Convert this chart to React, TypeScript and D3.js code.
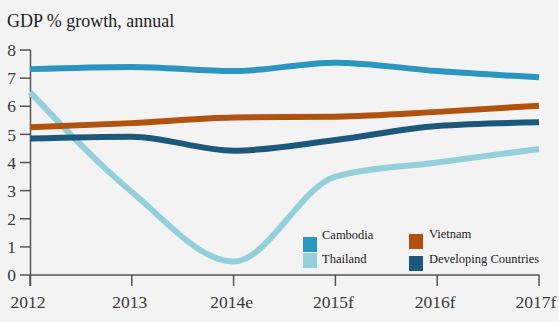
import React from "react";
import * as d3 from "d3";

const years = ["2012", "2013", "2014e", "2015f", "2016f", "2017f"];
const yTicks = [0, 1, 2, 3, 4, 5, 6, 7, 8];
const cambodia = [7.32, 7.4, 7.25, 7.55, 7.25, 7.03];
const vietnam = [5.25, 5.4, 5.6, 5.63, 5.8, 6.02];
const thailand = [6.5, 2.95, 0.48, 3.5, 4.0, 4.48];
const developing = [4.85, 4.92, 4.42, 4.8, 5.3, 5.43];

const seriesNames = ["Cambodia", "Vietnam", "Thailand", "Developing Countries"];
const seriesColors = ["#2b96bf", "#b2520f", "#94d0dc", "#1b5879"];

export default function App() {
  const W = 559, H = 322;
  const x = d3.scalePoint<string>().domain(years).range([30, 539]);
  const y = d3.scaleLinear().domain([0, 8]).range([275, 50]);
  const line = d3
    .line<number>()
    .x((_, i) => x(years[i]) as number)
    .y((d) => y(d))
    .curve(d3.curveMonotoneX);

  const data = [cambodia, vietnam, thailand, developing];
  const drawOrder = [2, 3, 1, 0];
  const font = "'Liberation Serif', 'Times New Roman', serif";
  const axisColor = "#555";

  const legend = [
    { i: 0, x: 303, y: 237, tx: 322, ty: 239 },
    { i: 1, x: 409, y: 234, tx: 429, ty: 238 },
    { i: 2, x: 303, y: 253, tx: 322, ty: 263 },
    { i: 3, x: 409, y: 256, tx: 429, ty: 263 },
  ];

  return (
    <svg
      width={W}
      height={H}
      style={{ position: "absolute", left: 0, top: 0, background: "#f3f3f3" }}
      fontFamily={font}
    >
      <rect x={0} y={0} width={W} height={H} fill="#f3f3f3" />
      <text x={7} y={27} fontSize={18} fill="#222">
        GDP % growth, annual
      </text>

      {/* y axis */}
      <line x1={30.5} x2={30.5} y1={y(8)} y2={286} stroke={axisColor} strokeWidth={1.5} />
      {yTicks.map((t) => (
        <g key={t}>
          <line x1={20} x2={30.5} y1={y(t)} y2={y(t)} stroke={axisColor} strokeWidth={1.5} />
          <text
            x={16}
            y={y(t)}
            dy="0.35em"
            textAnchor="end"
            fontSize={17.5}
            fill="#3a3a3a"
          >
            {t}
          </text>
        </g>
      ))}

      {/* x axis */}
      <line x1={30} x2={539.5} y1={y(0)} y2={y(0)} stroke={axisColor} strokeWidth={1.5} />
      {years.map((yr) => (
        <g key={yr}>
          <line
            x1={x(yr)}
            x2={x(yr)}
            y1={y(0)}
            y2={286}
            stroke={axisColor}
            strokeWidth={1.5}
          />
          <text
            x={(x(yr) as number) - (yr === "2017f" ? 3 : 2)}
            y={308}
            textAnchor="middle"
            fontSize={17.5}
            fill="#3a3a3a"
          >
            {yr}
          </text>
        </g>
      ))}

      {/* lines */}
      {drawOrder.map((i) => (
        <path
          key={i}
          d={line(data[i]) || ""}
          fill="none"
          stroke={seriesColors[i]}
          strokeWidth={6}
          strokeLinecap="butt"
        />
      ))}

      {/* legend */}
      {legend.map((l) => (
        <g key={l.i}>
          <rect x={l.x} y={l.y} width={14} height={15} fill={seriesColors[l.i]} />
          <text x={l.tx} y={l.ty} fontSize={12.5} fill="#222">
            {seriesNames[l.i]}
          </text>
        </g>
      ))}
    </svg>
  );
}
